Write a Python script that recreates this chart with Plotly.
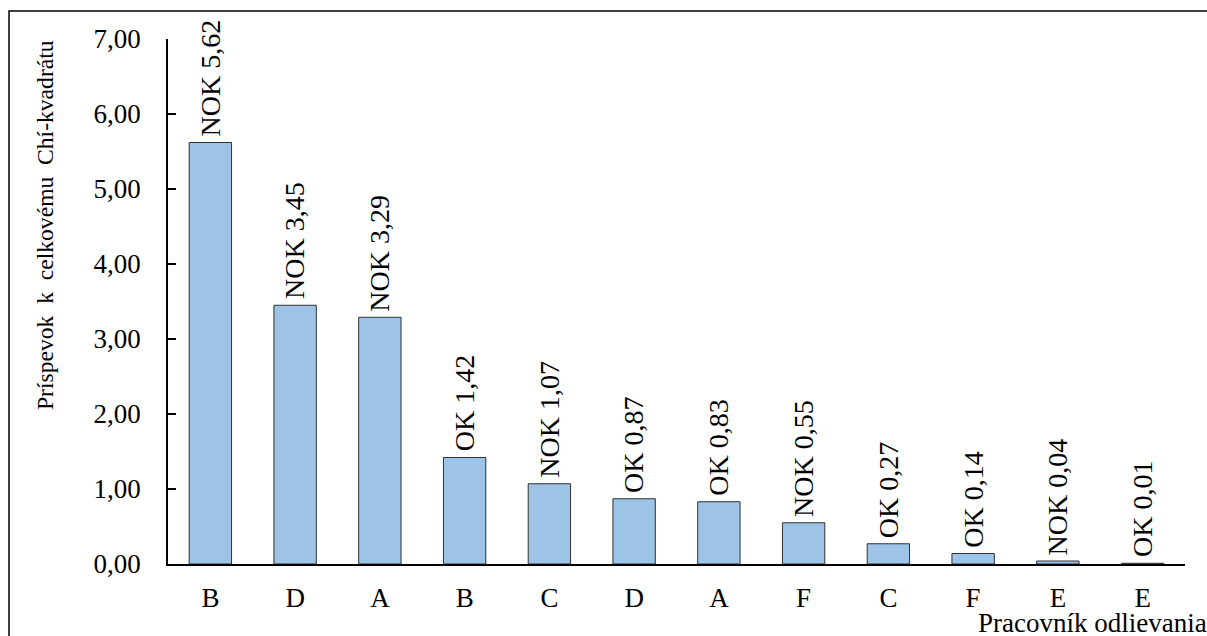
import plotly.graph_objects as go

categories = ["B", "D", "A", "B", "C", "D", "A", "F", "C", "F", "E", "E"]
values = [5.62, 3.45, 3.29, 1.42, 1.07, 0.87, 0.83, 0.55, 0.27, 0.14, 0.04, 0.01]
status = ["NOK", "NOK", "NOK", "OK", "NOK", "OK", "OK", "NOK", "OK", "OK", "NOK", "OK"]
y_ticks = [0, 1, 2, 3, 4, 5, 6, 7]

FONT = "Liberation Serif"
FS = 27

xs = list(range(len(categories)))

fig = go.Figure()
fig.add_trace(go.Bar(
    x=xs, y=values, width=0.5,
    marker=dict(color="#9DC3E6", line=dict(color="#303030", width=1)),
    hoverinfo="skip",
))

for i, (v, s) in enumerate(zip(values, status)):
    fig.add_annotation(
        x=i, y=v, xref="x", yref="y",
        text=f"{s} {v:.2f}".replace(".", ","),
        textangle=-90, showarrow=False,
        xanchor="center", yanchor="bottom", yshift=4,
        font=dict(family=FONT, size=28, color="black"),
    )

fig.add_annotation(
    x=(976 - 168) / 1017, y=-0.08, xref="paper", yref="paper",
    text="Pracovník odlievania", showarrow=False,
    xanchor="left", yanchor="top",
    font=dict(family=FONT, size=FS, color="black"),
)

fig.add_annotation(
    x=(45 - 168) / 1017, y=(564 - 225) / 525, xref="paper", yref="paper",
    text="Príspevok  k  celkovému  Chí-kvadrátu", textangle=-90, showarrow=False,
    xanchor="center", yanchor="middle",
    font=dict(family=FONT, size=23.6, color="black"),
)

fig.add_shape(
    type="rect", xref="paper", yref="paper",
    x0=(9 - 168) / 1017, x1=1.2, y0=-0.3, y1=(564 - 11) / 525,
    line=dict(color="black", width=1.5), fillcolor="rgba(0,0,0,0)",
)

fig.update_layout(
    width=1207, height=636,
    margin=dict(l=168, r=22, t=39, b=72),
    paper_bgcolor="white", plot_bgcolor="white",
    separators=", ",
    showlegend=False,
    font=dict(family=FONT, size=FS, color="black"),
    xaxis=dict(
        range=[-0.5, len(categories) - 0.5],
        tickmode="array", tickvals=xs, ticktext=categories,
        showline=True, linecolor="black", linewidth=1.5,
        ticks="", showgrid=False, zeroline=False,
        ticklabelstandoff=9,
        tickfont=dict(family=FONT, size=FS, color="black"),
    ),
    yaxis=dict(
        range=[0, 7], tickmode="array", tickvals=y_ticks,
        tickformat=".2f",
        showline=True, linecolor="black", linewidth=1.5,
        ticks="inside", ticklen=8, tickcolor="black", tickwidth=1.5,
        showgrid=False, zeroline=False,
        ticklabelstandoff=20,
        tickfont=dict(family=FONT, size=FS, color="black"),
    ),
)

fig.write_html(
    "out.html",
    config={"displayModeBar": False},
    post_script="document.body.style.margin='0';document.body.style.overflow='hidden';",
)
